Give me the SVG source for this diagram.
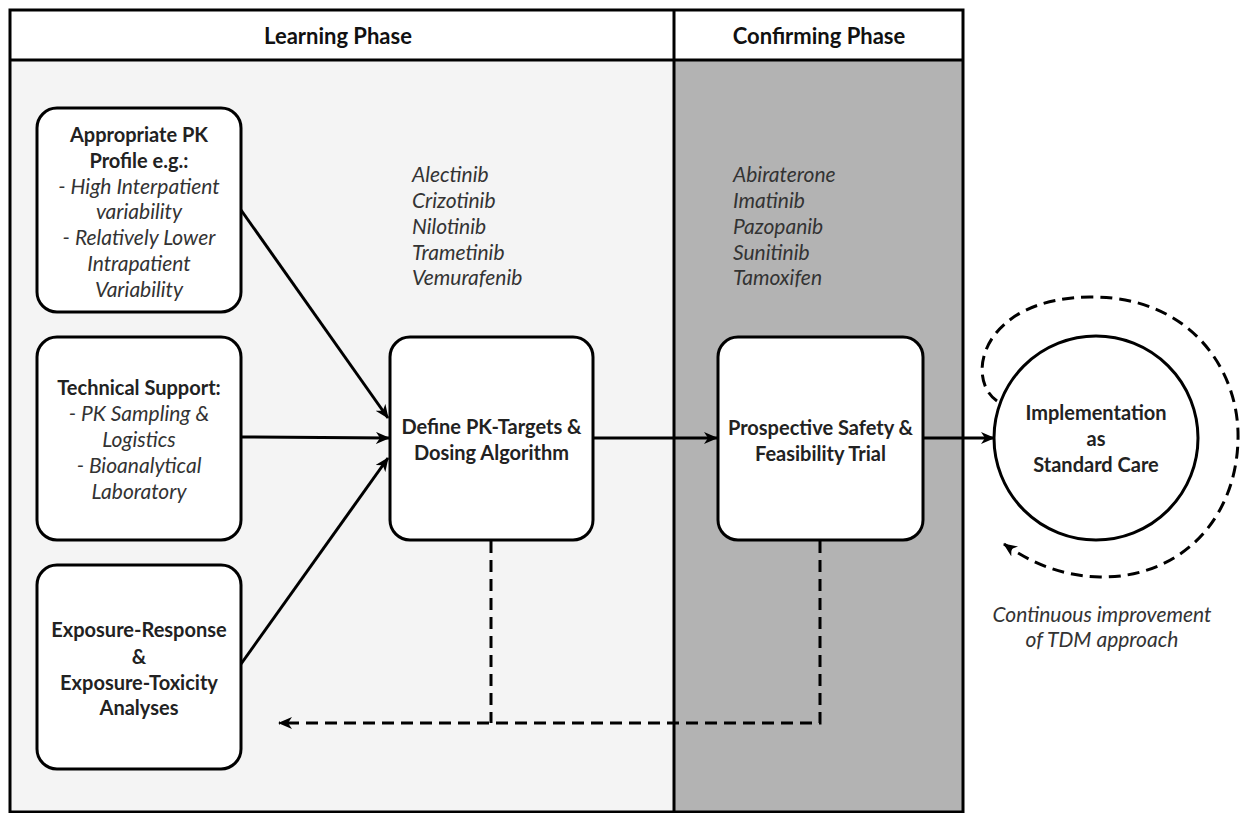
<svg xmlns="http://www.w3.org/2000/svg" width="1249" height="813" viewBox="0 0 1249 813">
<defs>
<style>
.box{fill:#fff;stroke:#000;stroke-width:3}
.ln{fill:none;stroke:#000;stroke-width:3}
.dash{fill:none;stroke:#000;stroke-width:3;stroke-dasharray:12 7}
text{font-family:Lato,"Open Sans","Liberation Sans",sans-serif;font-size:20px;text-anchor:middle;fill:#222}
.b{font-weight:bold}
.i{font-style:italic;fill:#333;font-size:21px}
.l{text-anchor:start}
.h{font-size:22px;font-weight:bold;fill:#111}
</style>
<marker id="ah" markerWidth="14" markerHeight="12" refX="13" refY="6" orient="auto" markerUnits="userSpaceOnUse">
<path d="M0,0 L14,6 L0,12 L4,6 Z" fill="#000"/>
</marker>
</defs>
<rect x="0" y="0" width="1249" height="813" fill="#fff"/>
<g id="frame">
<rect x="10" y="60" width="664" height="752" fill="#f4f4f4"/>
<rect x="674" y="60" width="289" height="752" fill="#b3b3b3"/>
<rect x="10" y="10" width="953" height="802" fill="none" stroke="#000" stroke-width="3"/>
<line x1="10" y1="60" x2="963" y2="60" stroke="#000" stroke-width="3"/>
<line x1="674" y1="10" x2="674" y2="812" stroke="#000" stroke-width="3"/>
<text class="h" x="338" y="44">Learning Phase</text>
<text class="h" x="819" y="44">Confirming Phase</text>
</g>
<g id="drugs-learning">
<text class="i l" x="412" y="182">Alectinib</text>
<text class="i l" x="412" y="208">Crizotinib</text>
<text class="i l" x="412" y="234">Nilotinib</text>
<text class="i l" x="412" y="260">Trametinib</text>
<text class="i l" x="412" y="285">Vemurafenib</text>
</g>
<g id="drugs-confirming">
<text class="i l" x="733" y="182">Abiraterone</text>
<text class="i l" x="733" y="208">Imatinib</text>
<text class="i l" x="733" y="234">Pazopanib</text>
<text class="i l" x="733" y="260">Sunitinib</text>
<text class="i l" x="733" y="285">Tamoxifen</text>
</g>
<g id="connectors">
<line class="ln" x1="241" y1="210" x2="388" y2="418" marker-end="url(#ah)"/>
<line class="ln" x1="241" y1="437" x2="389" y2="438" marker-end="url(#ah)"/>
<line class="ln" x1="241" y1="664" x2="388" y2="458" marker-end="url(#ah)"/>
<line class="ln" x1="593" y1="438" x2="717" y2="438" marker-end="url(#ah)"/>
<line class="ln" x1="923" y1="438" x2="994" y2="438" marker-end="url(#ah)"/>
<path class="dash" d="M491,541 L491,723 M820,541 L820,723 L279,723" marker-end="url(#ah)"/>
<path class="dash" d="M997,401 C964,378 982,298 1090,297 C1190,296 1240,370 1238,440 C1236,520 1180,578 1100,577 C1060,576 1030,562 1004,544" marker-end="url(#ah)"/>
</g>
<g id="n-pkprofile">
<rect class="box" x="37" y="108" width="204" height="204" rx="20"/>
<text class="b" x="139" y="142">Appropriate PK</text>
<text class="b" x="139" y="168">Profile e.g.:</text>
<text class="i" x="139" y="194">- High Interpatient</text>
<text class="i" x="139" y="219">variability</text>
<text class="i" x="139" y="245">- Relatively Lower</text>
<text class="i" x="139" y="271">Intrapatient</text>
<text class="i" x="139" y="297">Variability</text>
</g>
<g id="n-technical">
<rect class="box" x="37" y="337" width="204" height="203" rx="20"/>
<text class="b" x="139" y="395">Technical Support:</text>
<text class="i" x="139" y="421">- PK Sampling &amp;</text>
<text class="i" x="139" y="447">Logistics</text>
<text class="i" x="139" y="473">- Bioanalytical</text>
<text class="i" x="139" y="499">Laboratory</text>
</g>
<g id="n-exposure">
<rect class="box" x="37" y="565" width="204" height="204" rx="20"/>
<text class="b" x="139" y="637">Exposure-Response</text>
<text class="b" x="139" y="664">&amp;</text>
<text class="b" x="139" y="690">Exposure-Toxicity</text>
<text class="b" x="139" y="715">Analyses</text>
</g>
<g id="n-define">
<rect class="box" x="390" y="337" width="203" height="203" rx="20"/>
<text class="b" x="491.5" y="434">Define PK-Targets &amp;</text>
<text class="b" x="491.5" y="460">Dosing Algorithm</text>
</g>
<g id="n-prospective">
<rect class="box" x="718" y="337" width="205" height="203" rx="20"/>
<text class="b" x="820.5" y="435">Prospective Safety &amp;</text>
<text class="b" x="820.5" y="461">Feasibility Trial</text>
</g>
<g id="n-implementation">
<circle class="box" cx="1096" cy="438" r="102"/>
<text class="b" x="1096" y="420">Implementation</text>
<text class="b" x="1096" y="446">as</text>
<text class="b" x="1096" y="472">Standard Care</text>
</g>
<g id="label-continuous">
<text class="i" x="1102" y="622">Continuous improvement</text>
<text class="i" x="1102" y="647">of TDM approach</text>
</g>
</svg>
